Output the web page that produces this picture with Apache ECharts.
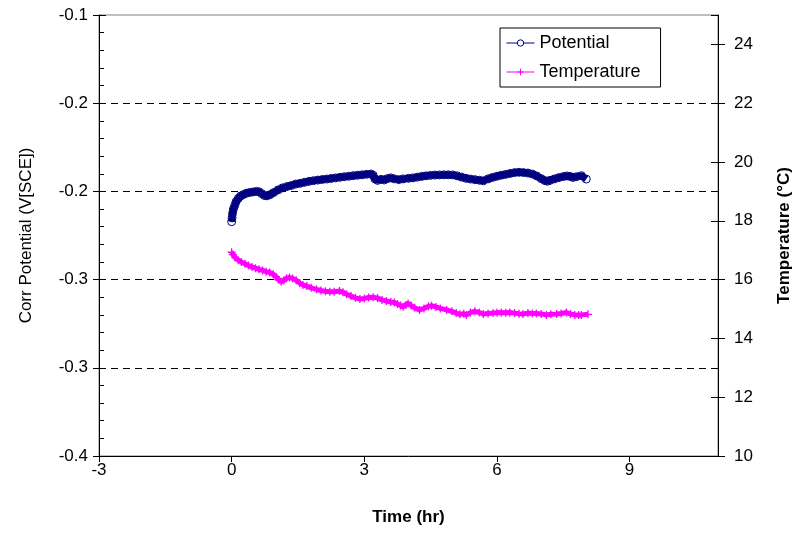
<!DOCTYPE html>
<html>
<head>
<meta charset="utf-8">
<script src="https://cdn.jsdelivr.net/npm/echarts@6/dist/echarts.min.js"></script>
<style>html,body{margin:0;padding:0;background:#fff}#c{width:795px;height:534px}</style>
</head>
<body>
<div id="c"></div>
<script>
var timeTicks = [-3, 0, 3, 6, 9];
var potTime = [0.00,0.01,0.02,0.04,0.07,0.10,0.15,0.20,0.26,0.33,0.40,0.48,0.56,0.62,0.68,0.74,0.80,0.87,0.95,1.05,1.15,1.25,1.35,1.45,1.55,1.65,1.75,1.85,1.95,2.05,2.15,2.25,2.35,2.45,2.55,2.65,2.75,2.85,2.95,3.05,3.15,3.20,3.24,3.30,3.38,3.45,3.52,3.60,3.68,3.78,3.88,4.00,4.10,4.20,4.30,4.40,4.50,4.60,4.70,4.80,4.90,5.00,5.10,5.20,5.30,5.40,5.50,5.60,5.69,5.80,5.90,6.00,6.10,6.20,6.30,6.40,6.50,6.60,6.70,6.80,6.90,7.00,7.08,7.14,7.20,7.30,7.40,7.50,7.58,7.65,7.72,7.80,7.91,8.02];
var potValue = [-0.2406,-0.2380,-0.2350,-0.2320,-0.2295,-0.2270,-0.2248,-0.2232,-0.2222,-0.2213,-0.2208,-0.2204,-0.2200,-0.2203,-0.2215,-0.2228,-0.2230,-0.2222,-0.2208,-0.2190,-0.2176,-0.2167,-0.2160,-0.2150,-0.2145,-0.2138,-0.2132,-0.2127,-0.2123,-0.2119,-0.2116,-0.2112,-0.2108,-0.2104,-0.2100,-0.2097,-0.2093,-0.2090,-0.2087,-0.2084,-0.2082,-0.2090,-0.2115,-0.2125,-0.2118,-0.2122,-0.2113,-0.2108,-0.2115,-0.2120,-0.2115,-0.2111,-0.2108,-0.2103,-0.2098,-0.2094,-0.2091,-0.2089,-0.2088,-0.2087,-0.2087,-0.2088,-0.2094,-0.2103,-0.2111,-0.2116,-0.2120,-0.2124,-0.2128,-0.2115,-0.2105,-0.2097,-0.2090,-0.2084,-0.2078,-0.2072,-0.2070,-0.2072,-0.2075,-0.2082,-0.2095,-0.2113,-0.2126,-0.2131,-0.2125,-0.2115,-0.2106,-0.2099,-0.2095,-0.2098,-0.2105,-0.2100,-0.2093,-0.2116];
var tempTime = [0.00,0.03,0.08,0.15,0.22,0.30,0.38,0.46,0.54,0.62,0.70,0.78,0.86,0.94,1.00,1.06,1.12,1.18,1.24,1.31,1.38,1.46,1.54,1.61,1.70,1.80,1.92,2.02,2.12,2.22,2.32,2.44,2.52,2.60,2.70,2.80,2.90,3.00,3.10,3.20,3.30,3.40,3.50,3.60,3.68,3.75,3.82,3.88,3.94,3.99,4.06,4.14,4.25,4.35,4.45,4.52,4.62,4.72,4.86,4.98,5.08,5.16,5.25,5.31,5.40,5.50,5.60,5.69,5.80,5.91,6.00,6.10,6.20,6.29,6.40,6.50,6.59,6.70,6.80,6.89,7.00,7.12,7.22,7.35,7.45,7.57,7.66,7.76,7.85,7.91,8.06];
var tempValue = [16.93,16.85,16.75,16.66,16.60,16.54,16.48,16.43,16.39,16.35,16.31,16.27,16.24,16.18,16.10,16.00,15.93,15.97,16.05,16.07,16.04,15.98,15.88,15.82,15.78,15.72,15.67,15.63,15.60,15.59,15.59,15.61,15.57,15.50,15.44,15.38,15.34,15.36,15.39,15.40,15.37,15.31,15.27,15.24,15.22,15.17,15.12,15.08,15.14,15.19,15.12,15.04,14.97,15.02,15.09,15.11,15.07,15.02,14.97,14.92,14.86,14.82,14.84,14.80,14.88,14.92,14.88,14.83,14.85,14.86,14.87,14.88,14.87,14.88,14.86,14.84,14.83,14.86,14.85,14.85,14.83,14.80,14.82,14.83,14.85,14.88,14.83,14.80,14.80,14.80,14.82];

var FONT = 'Liberation Sans, Arial, sans-serif';
var NAVY = '#000080', MAG = '#FF00FF';
function pairs(a, b) { return a.map(function (v, i) { return [v, b[i]]; }); }
var plusPath = 'path://M0,4.2 L10,4.2 L10,5.8 L0,5.8 Z M4.2,0 L5.8,0 L5.8,10 L4.2,10 Z';

var chart = echarts.init(document.getElementById('c'));
chart.setOption({
  animation: false,
  backgroundColor: '#fff',
  textStyle: { fontFamily: FONT },
  grid: { left: 99, right: 77, top: 15, bottom: 78, containLabel: false, outerBoundsMode: 'none', show: true, borderColor: '#808080', borderWidth: 1, backgroundColor: 'transparent' },
  legend: {
    orient: 'vertical', left: 500, top: 28,
    borderColor: '#000', borderWidth: 1, borderRadius: 0,
    padding: [6, 20, 6, 6], itemGap: 11,
    itemWidth: 28, itemHeight: 8,
    textStyle: { fontFamily: FONT, fontSize: 18, color: '#000' },
    data: [
      { name: 'Potential', lineStyle: { width: 1, color: NAVY }, itemStyle: { color: '#fff', borderColor: NAVY, borderWidth: 1 } },
      { name: 'Temperature', lineStyle: { width: 1, color: MAG }, itemStyle: { color: MAG } }
    ]
  },
  xAxis: {
    type: 'value', min: -3, max: 11, interval: 3,
    name: 'Time (hr)', nameLocation: 'middle', nameGap: 53,
    nameTextStyle: { fontFamily: FONT, fontSize: 17, fontWeight: 'bold', color: '#000' },
    axisLine: { show: true, onZero: false, lineStyle: { color: '#000', width: 1 } },
    axisTick: { show: true, inside: false, length: 6, lineStyle: { color: '#000' }, customValues: timeTicks },
    axisLabel: { fontFamily: FONT, fontSize: 17, color: '#000', margin: 6, customValues: timeTicks },
    splitLine: { show: false }
  },
  yAxis: [
    {
      type: 'value', position: 'left', min: -0.4, max: -0.1, interval: 0.06,
      name: 'Corr Potential (V[SCE])', nameLocation: 'middle', nameGap: 64, nameRotate: 90,
      nameTextStyle: { fontFamily: FONT, fontSize: 17, color: '#000' },
      axisLine: { show: true, onZero: false, lineStyle: { color: '#000' } },
      axisTick: { show: true, inside: false, length: 6, lineStyle: { color: '#000' } },
      axisLabel: { fontFamily: FONT, fontSize: 17, color: '#000', margin: 11, formatter: function (v) { return v.toFixed(1); } },
      splitLine: { show: true, showMinLine: false, showMaxLine: false, lineStyle: { color: '#000', type: [7, 5], width: 1 } }
    },
    {
      type: 'value', position: 'right', min: 10, max: 25, interval: 2,
      name: 'Temperature (°C)', nameLocation: 'middle', nameGap: 58, nameRotate: 90,
      nameTextStyle: { fontFamily: FONT, fontSize: 17, fontWeight: 'bold', color: '#000' },
      axisLine: { show: true, onZero: false, lineStyle: { color: '#000' } },
      axisTick: { show: true, inside: false, length: 7, lineStyle: { color: '#000' } },
      axisLabel: { fontFamily: FONT, fontSize: 17, color: '#000', margin: 16, showMaxLabel: false },
      splitLine: { show: false }
    },
    {
      type: 'value', position: 'left', min: -0.4, max: -0.1, interval: 0.06,
      axisLine: { show: false, onZero: false },
      axisTick: { show: true, inside: true, length: 7, lineStyle: { color: '#000' } },
      minorTick: { show: true, splitNumber: 5, length: 5, lineStyle: { color: '#000' } },
      axisLabel: { show: false }, splitLine: { show: false }
    },
    {
      type: 'value', position: 'right', min: 10, max: 25, interval: 2,
      axisLine: { show: false, onZero: false },
      axisTick: { show: true, inside: true, length: 7, lineStyle: { color: '#000' } },
      axisLabel: { show: false }, splitLine: { show: false }
    }
  ],
  series: [
    {
      name: 'Potential', type: 'line', yAxisIndex: 0,
      data: pairs(potTime, potValue),
      symbol: 'circle', symbolSize: 8, showAllSymbol: true,
      lineStyle: { color: NAVY, width: 7 },
      itemStyle: { color: 'rgba(255,255,255,0)', borderColor: NAVY, borderWidth: 1 },
      z: 3
    },
    {
      name: 'Temperature', type: 'line', yAxisIndex: 1,
      data: pairs(tempTime, tempValue),
      symbol: plusPath, symbolSize: 8, showAllSymbol: true,
      lineStyle: { color: MAG, width: 5 },
      itemStyle: { color: MAG },
      z: 3
    }
  ]
});
</script>
</body>
</html>
